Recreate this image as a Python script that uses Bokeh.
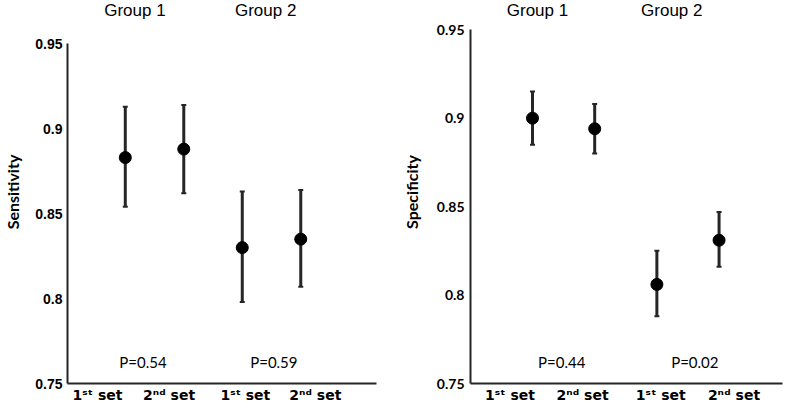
from bokeh.plotting import figure
from bokeh.layouts import row
from bokeh.models import (ColumnDataSource, Whisker, TeeHead, FixedTicker,
                          LabelSet, Range1d)
from bokeh.core.properties import value
from bokeh.embed import file_html
from bokeh.resources import INLINE

# ---------------- data ----------------
slots = [1, 2, 3, 4]
set_labels = ["1\u02e2\u1d57 set", "2\u207f\u1d48 set", "1\u02e2\u1d57 set", "2\u207f\u1d48 set"]
group_names = ["Group 1", "Group 2"]

sens_mean = [0.883, 0.888, 0.830, 0.835]
sens_lower = [0.854, 0.862, 0.798, 0.807]
sens_upper = [0.913, 0.914, 0.863, 0.864]
sens_p = ["P=0.54", "P=0.59"]

spec_mean = [0.900, 0.894, 0.806, 0.831]
spec_lower = [0.885, 0.880, 0.788, 0.816]
spec_upper = [0.915, 0.908, 0.825, 0.847]
spec_p = ["P=0.44", "P=0.02"]

y_ticks = [0.75, 0.8, 0.85, 0.9, 0.95]
y_tick_text = ["0.75", "0.8", "0.85", "0.9", "0.95"]

# ---------------- layout constants ----------------
LEFT = dict(width=396, border_left=59, border_right=20,
            x_start=0.012, x_end=5.295, y_end=0.9755,
            tick_pos=[0.525, 1.748, 3.053, 4.248],
            group_x=[1.165, 3.40], group_y=0.9695,
            p_x=[1.303, 3.54], p_y=0.7624,
            ytick_font="Liberation Sans", label_standoff=10, major_standoff=5)
RIGHT = dict(width=388, border_left=74, border_right=2,
             x_start=0.003, x_end=5.02, y_end=0.9665,
             tick_pos=[0.638, 1.804, 3.063, 4.24],
             group_x=[1.08, 3.24], group_y=0.9607,
             p_x=[1.469, 3.61], p_y=0.7619,
             ytick_font="Lato", label_standoff=13, major_standoff=6)

HEIGHT = 405
INK = "#262626"


def panel(cfg, mean, lower, upper, pvals, ylabel):
    p = figure(width=cfg["width"], height=HEIGHT, output_backend="svg",
               toolbar_location=None, title=None,
               x_range=Range1d(cfg["x_start"], cfg["x_end"]),
               y_range=Range1d(0.75, cfg["y_end"]),
               min_border_left=cfg["border_left"], min_border_right=cfg["border_right"],
               min_border_top=0, min_border_bottom=20)
    p.outline_line_color = None
    p.grid.visible = False
    p.background_fill_color = "white"
    p.border_fill_color = "white"

    # axes
    for ax in (p.xaxis[0], p.yaxis[0]):
        ax.axis_line_color = INK
        ax.axis_line_width = 2
        ax.major_tick_line_color = None
        ax.minor_tick_line_color = None
        ax.major_tick_out = 0
        ax.major_tick_in = 0
        ax.major_label_text_color = "black"

    p.yaxis.bounds = (0.75, 0.95)
    p.yaxis.ticker = FixedTicker(ticks=y_ticks)
    p.yaxis.major_label_overrides = {t: s for t, s in zip(y_ticks, y_tick_text)}
    p.yaxis.major_label_text_font = cfg["ytick_font"]
    p.yaxis.major_label_text_font_style = "bold"
    p.yaxis.major_label_text_font_size = "14px"
    p.yaxis.major_label_standoff = cfg["major_standoff"]
    p.yaxis.axis_label = ylabel
    p.yaxis.axis_label_text_font = "Lato"
    p.yaxis.axis_label_text_font_style = "bold"
    p.yaxis.axis_label_text_font_size = "16px"
    p.yaxis.axis_label_text_color = "black"
    p.yaxis.axis_label_standoff = cfg["label_standoff"]

    p.xaxis.ticker = FixedTicker(ticks=cfg["tick_pos"])
    p.xaxis.major_label_overrides = {t: s for t, s in zip(cfg["tick_pos"], set_labels)}
    p.xaxis.major_label_text_font = "DejaVu Sans"
    p.xaxis.major_label_text_font_style = "bold"
    p.xaxis.major_label_text_font_size = "14px"
    p.xaxis.major_label_standoff = 3

    src = ColumnDataSource(dict(x=slots, mean=mean, lower=lower, upper=upper))
    w = Whisker(source=src, base="x", upper="upper", lower="lower",
                line_color=INK, line_width=3,
                upper_head=TeeHead(size=5, line_color=INK, line_width=2),
                lower_head=TeeHead(size=5, line_color=INK, line_width=2))
    p.add_layout(w)
    p.scatter("x", "mean", source=src, size=12, color="black")

    # group titles, drawn inside the (borderless) frame above the 0.95 bound
    gsrc = ColumnDataSource(dict(x=cfg["group_x"], y=[cfg["group_y"]] * 2, t=group_names))
    p.add_layout(LabelSet(source=gsrc, x="x", y="y", text="t",
                          text_font=value("Liberation Sans"), text_font_size=value("17px"),
                          text_align="center", text_baseline="middle",
                          text_color="black"))

    psrc = ColumnDataSource(dict(x=cfg["p_x"], y=[cfg["p_y"]] * 2, t=pvals))
    p.add_layout(LabelSet(source=psrc, x="x", y="y", text="t",
                          text_font=value("Lato"), text_font_size=value("15px"),
                          text_align="center", text_baseline="middle",
                          text_color="black"))
    return p


left = panel(LEFT, sens_mean, sens_lower, sens_upper, sens_p, "Sensitivity")
right = panel(RIGHT, spec_mean, spec_lower, spec_upper, spec_p, "Specificity")

layout = row(left, right)
open("out.html", "w").write(file_html(layout, INLINE))
